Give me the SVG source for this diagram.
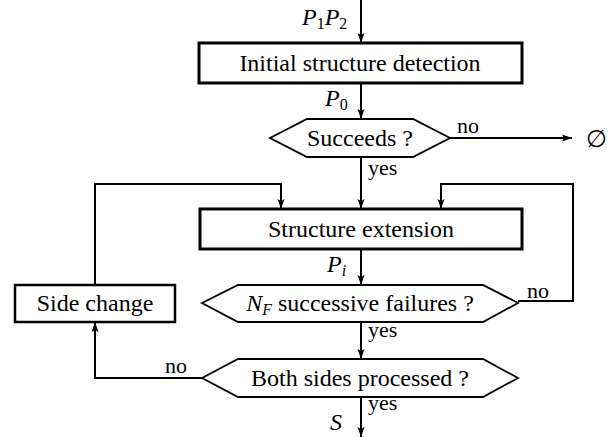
<svg xmlns="http://www.w3.org/2000/svg" width="610" height="437" viewBox="0 0 610 437" font-family="'Liberation Serif', 'Times New Roman', Times, 'DejaVu Serif', serif">
<style>
text{font-family:'Liberation Serif','Times New Roman',Times,'DejaVu Serif',serif;font-size:24px;fill:#000}
.c{text-anchor:middle}
.lbl{font-size:22px}
.it{font-style:italic}
.sub{font-size:16px;font-style:normal}
.subi{font-size:16px;font-style:italic}
.box{fill:#fff;stroke:#000;stroke-width:3}
.box2{fill:#fff;stroke:#000;stroke-width:2.5}
.hex{fill:#fff;stroke:#000;stroke-width:1.8;stroke-linejoin:miter}
.ln{fill:none;stroke:#000;stroke-width:2}
.arr{marker-end:url(#ah)}
</style>
<defs>
<marker id="ah" markerUnits="userSpaceOnUse" markerWidth="10" markerHeight="8" refX="10" refY="4" orient="auto">
<path d="M0,0.5 L10,4 L0,7.5 L2,4 Z" fill="#000"/>
</marker>
</defs>
<g id="connectors">
<path class="ln arr" d="M361,0 V43"/>
<path class="ln arr" d="M361,83 V119"/>
<path class="ln arr" d="M450,138 H572"/>
<path class="ln arr" d="M361,157 V209"/>
<path class="ln arr" d="M95,285 V184 H281 V209"/>
<path class="ln arr" d="M518,301 H573 V184 H441 V209"/>
<path class="ln arr" d="M361,249 V285"/>
<path class="ln arr" d="M361,322 V359"/>
<path class="ln arr" d="M202,378 H95 V322"/>
<path class="ln arr" d="M361,397 V437"/>
<text class="lbl it" x="302" y="25" style="font-size:24px">P<tspan class="sub" dy="4">1</tspan><tspan dy="-4">P</tspan><tspan class="sub" dy="4">2</tspan></text>
<text class="lbl it" x="325" y="106" style="font-size:24px">P<tspan class="sub" dy="4">0</tspan></text>
<text class="lbl" x="457" y="133">no</text>
<text x="586" y="147">∅</text>
<text class="lbl" x="368" y="175">yes</text>
<text class="lbl it" x="327" y="272" style="font-size:24px">P<tspan class="subi" dy="4">i</tspan></text>
<text class="lbl" x="527" y="298">no</text>
<text class="lbl" x="368" y="337">yes</text>
<text class="lbl" x="165" y="373">no</text>
<text class="lbl" x="368" y="410">yes</text>
<text class="lbl it" x="330" y="430" style="font-size:24px">S</text>
</g>
<g id="initial">
<rect class="box" x="199" y="43" width="323" height="40"/>
<text class="c" x="360" y="71">Initial structure detection</text>
</g>
<g id="succeeds">
<polygon class="hex" points="270,138 307,119 413,119 450,138 413,157 307,157"/>
<text class="c" x="360" y="146">Succeeds ?</text>
</g>
<g id="extension">
<rect class="box" x="200" y="209" width="322" height="40"/>
<text class="c" x="361" y="237">Structure extension</text>
</g>
<g id="failures">
<polygon class="hex" points="202,303 238,285 483,285 518,303 483,322 238,322"/>
<text class="c" x="360" y="311"><tspan class="it">N</tspan><tspan class="subi" dy="4">F</tspan><tspan dy="-4"> successive failures ?</tspan></text>
</g>
<g id="sidechange">
<rect class="box2" x="15" y="285" width="160" height="37"/>
<text class="c" x="95" y="311">Side change</text>
</g>
<g id="bothsides">
<polygon class="hex" points="202,378 238,359 483,359 518,378 483,397 238,397"/>
<text class="c" x="360" y="386">Both sides processed ?</text>
</g>
</svg>
